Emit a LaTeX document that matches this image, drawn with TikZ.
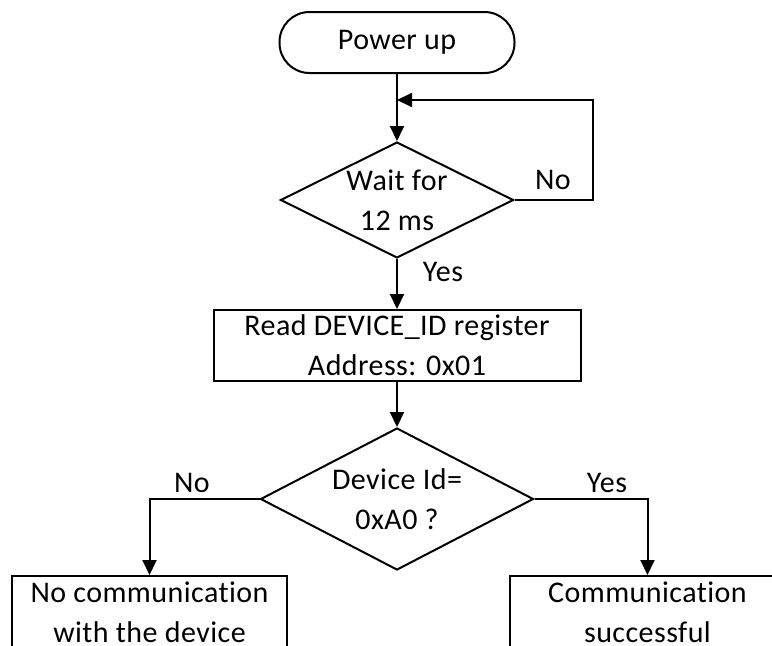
\documentclass[tikz,border=0pt]{standalone}
\usepackage{fontspec}
\setmainfont{Carlito}[LetterSpace=1.5, Ligatures=NoCommon]
\usetikzlibrary{arrows.meta,positioning,shapes.geometric}

\begin{document}
\begin{tikzpicture}[x=1pt, y=-1pt, font=\fontsize{30}{40}\selectfont,
  >={Triangle[length=15pt,width=14pt]},
  flow/.style={draw, line width=2pt},
  startbox/.style={draw, line width=2pt, rounded corners=30pt, minimum width=235pt, minimum height=61pt},
  procbox/.style={draw, line width=2pt, align=center, inner sep=0pt, minimum width=367pt, minimum height=71pt},
  endbox/.style={draw, line width=2pt, inner sep=0pt, minimum width=275pt, minimum height=80pt},
  decision/.style={draw, line width=2pt, diamond, inner sep=0pt},
  inside/.style={align=center, inner sep=0pt},
  lbl/.style={inner sep=0pt}]
  \path[use as bounding box, clip] (0,0) rectangle (772,646);
  % flow nodes
  \node[startbox] (power) at (397,42.5) {Power up};
  \node[decision, minimum width=233pt, minimum height=116pt,
    label={[inside]center:Wait for\\12 ms}] (wait) at (397,200) {};
  \node[procbox] (readid) at (397,345.5) {Read DEVICE\_ID register\\Address: 0x01};
  \node[decision, minimum width=273pt, minimum height=142pt,
    label={[inside]center:Device Id=\\0xA0 ?}] (check) at (397,499) {};
  \node[endbox, label={[inside, yshift=4pt]center:No communication\\with the device}] (nocomm) at (149.5,616) {};
  \node[endbox, label={[inside, yshift=4pt]center:Communication\\successful}] (comm) at (647.5,616) {};
  % loop back
  \coordinate (join) at (397,100);
  \coordinate (loopcorner) at (593,100);
  % connectors
  \draw[flow, ->] (power) -- (wait);
  \draw[flow, ->] (wait.east) -| (loopcorner) -- (join);
  \draw[flow, ->] (wait.south) -- (readid.north);
  \draw[flow, ->] (readid.south) -- (check.north);
  \draw[flow, ->] (check.west) -| (nocomm.north);
  \draw[flow, ->] (check.east) -| (comm.north);
  % branch labels
  \node[lbl] (no1) at (553,180) {No};
  \node[lbl] (yes1) at (443,272) {Yes};
  \node[lbl] (no2) at (192,483) {No};
  \node[lbl] (yes2) at (607,483) {Yes};
\end{tikzpicture}
\end{document}
